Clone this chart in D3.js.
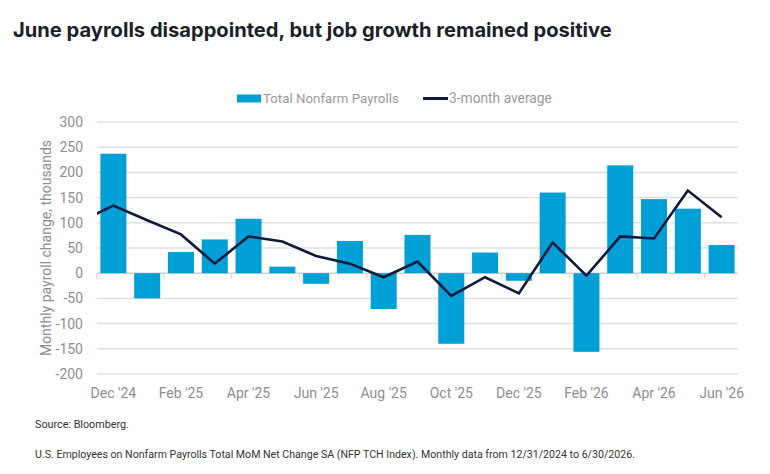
<!DOCTYPE html>
<html><head><meta charset="utf-8">
<script src="https://cdn.jsdelivr.net/npm/d3@7"></script>
<style>
html,body{margin:0;padding:0;background:#fff;}
svg{display:block;}
</style></head>
<body>
<svg id="chart" width="770" height="474"></svg>
<script>
const months = ["Dec '24","Jan '25","Feb '25","Mar '25","Apr '25","May '25","Jun '25","Jul '25","Aug '25","Sep '25","Oct '25","Nov '25","Dec '25","Jan '26","Feb '26","Mar '26","Apr '26","May '26","Jun '26"];
const payrolls = [237,-50,42,67,108,13,-21,64,-71,76,-140,41,-15,160,-156,214,147,128,56];
// 3-month average; first entry is Nov '24 (partly outside the plot, clipped)
const avgMonths = ["Nov '24"].concat(months);
const avg3m = [102,134,105,77,19,73,63,34,19,-8,23,-45,-8,-40,61,-5,73,69,164,111];
const yTicks = [-200,-150,-100,-50,0,50,100,150,200,250,300];
const xLabels = ["Dec '24","Feb '25","Apr '25","Jun '25","Aug '25","Oct '25","Dec '25","Feb '26","Apr '26","Jun '26"];

const svg = d3.select("#chart");
const L = 97, R = 738, T = 122, B = 374;
const x = d3.scaleBand().domain(months).range([L, R]).paddingInner(0.23).paddingOuter(0.1);
const y = d3.scaleLinear().domain([-200, 300]).range([B, T]);
const gray = "#8e8e8e";
const axisFont = "Roboto, 'Open Sans', sans-serif";

function fit(sel, w){ const n = sel.node(); const cur = n.getComputedTextLength(); const fs = parseFloat(sel.attr("font-size")); sel.attr("font-size", fs * w / cur); }

// title
const title = svg.append("text").attr("x", 13).attr("y", 37)
  .attr("font-family", "Inter, 'Open Sans', sans-serif").attr("font-weight", 700)
  .attr("font-size", 22).attr("fill", "#1b1f2a")
  .text("June payrolls disappointed, but job growth remained positive");
fit(title, 599);

// legend
svg.append("rect").attr("x", 237).attr("y", 94.5).attr("width", 24).attr("height", 8).attr("fill", "#00a0d7");
const lt1 = svg.append("text").attr("x", 263).attr("y", 103).attr("font-family", axisFont).attr("font-size", 13).attr("fill", "#9a9a9a").text("Total Nonfarm Payrolls");
fit(lt1, 136);
svg.append("line").attr("x1", 423).attr("x2", 448).attr("y1", 98.5).attr("y2", 98.5).attr("stroke", "#0d1a3c").attr("stroke-width", 3);
const lt2 = svg.append("text").attr("x", 449).attr("y", 103).attr("font-family", axisFont).attr("font-size", 13).attr("fill", "#9a9a9a").text("3-month average");
fit(lt2, 103);

// gridlines
svg.append("g").selectAll("line").data(yTicks).join("line")
  .attr("x1", L).attr("x2", R).attr("y1", d => y(d)).attr("y2", d => y(d))
  .attr("stroke", d => d === 0 ? "#d0d0d0" : "#e0e0e0").attr("stroke-width", 1.5);

// y-axis labels
svg.append("g").selectAll("text").data(yTicks).join("text")
  .attr("x", 83).attr("y", d => y(d)).attr("dy", "0.35em").attr("text-anchor", "end")
  .attr("font-family", axisFont).attr("font-size", 14).attr("fill", gray).text(d => d);

// y-axis title
svg.append("text").attr("transform", "translate(51,248) rotate(-90)").attr("text-anchor", "middle")
  .attr("font-family", axisFont).attr("font-size", 14).attr("fill", gray)
  .text("Monthly payroll change, thousands");

// bars
svg.append("g").selectAll("rect").data(payrolls).join("rect")
  .attr("x", (d, i) => x(months[i])).attr("width", x.bandwidth())
  .attr("y", d => y(Math.max(0, d))).attr("height", d => Math.abs(y(d) - y(0)))
  .attr("fill", "#00a0d7");

// x ticks at zero line
svg.append("g").selectAll("line").data(xLabels).join("line")
  .attr("x1", d => x(d) - x.step() * x.paddingInner() / 2).attr("x2", d => x(d) - x.step() * x.paddingInner() / 2)
  .attr("y1", y(0)).attr("y2", y(0) + 5).attr("stroke", "#d6d6d6").attr("stroke-width", 1.2);

// x labels
svg.append("g").selectAll("text").data(xLabels).join("text")
  .attr("x", d => x(d) + x.bandwidth() / 2).attr("y", 398).attr("text-anchor", "middle")
  .attr("font-family", axisFont).attr("font-size", 14).attr("fill", gray).text(d => d);

// line
svg.append("clipPath").attr("id", "clip").append("rect").attr("x", L).attr("y", 0).attr("width", R - L).attr("height", 474);
const xc = i => x(months[0]) + x.bandwidth() / 2 + (i - 1) * x.step();
const line = d3.line().x((d, i) => xc(i)).y(d => y(d));
svg.append("path").datum(avg3m).attr("d", line).attr("clip-path", "url(#clip)")
  .attr("fill", "none").attr("stroke", "#0d1a3c").attr("stroke-width", 2.6).attr("stroke-linejoin", "miter");

// footnotes
const f1 = svg.append("text").attr("x", 35).attr("y", 428).attr("font-family", axisFont).attr("font-size", 11.5).attr("fill", "#333").text("Source: Bloomberg.");
fit(f1, 94);
const f2 = svg.append("text").attr("x", 35).attr("y", 458).attr("font-family", axisFont).attr("font-size", 11.5).attr("fill", "#333")
  .text("U.S. Employees on Nonfarm Payrolls Total MoM Net Change SA (NFP TCH Index). Monthly data from 12/31/2024 to 6/30/2026.");
fit(f2, 600);
</script>
</body></html>
